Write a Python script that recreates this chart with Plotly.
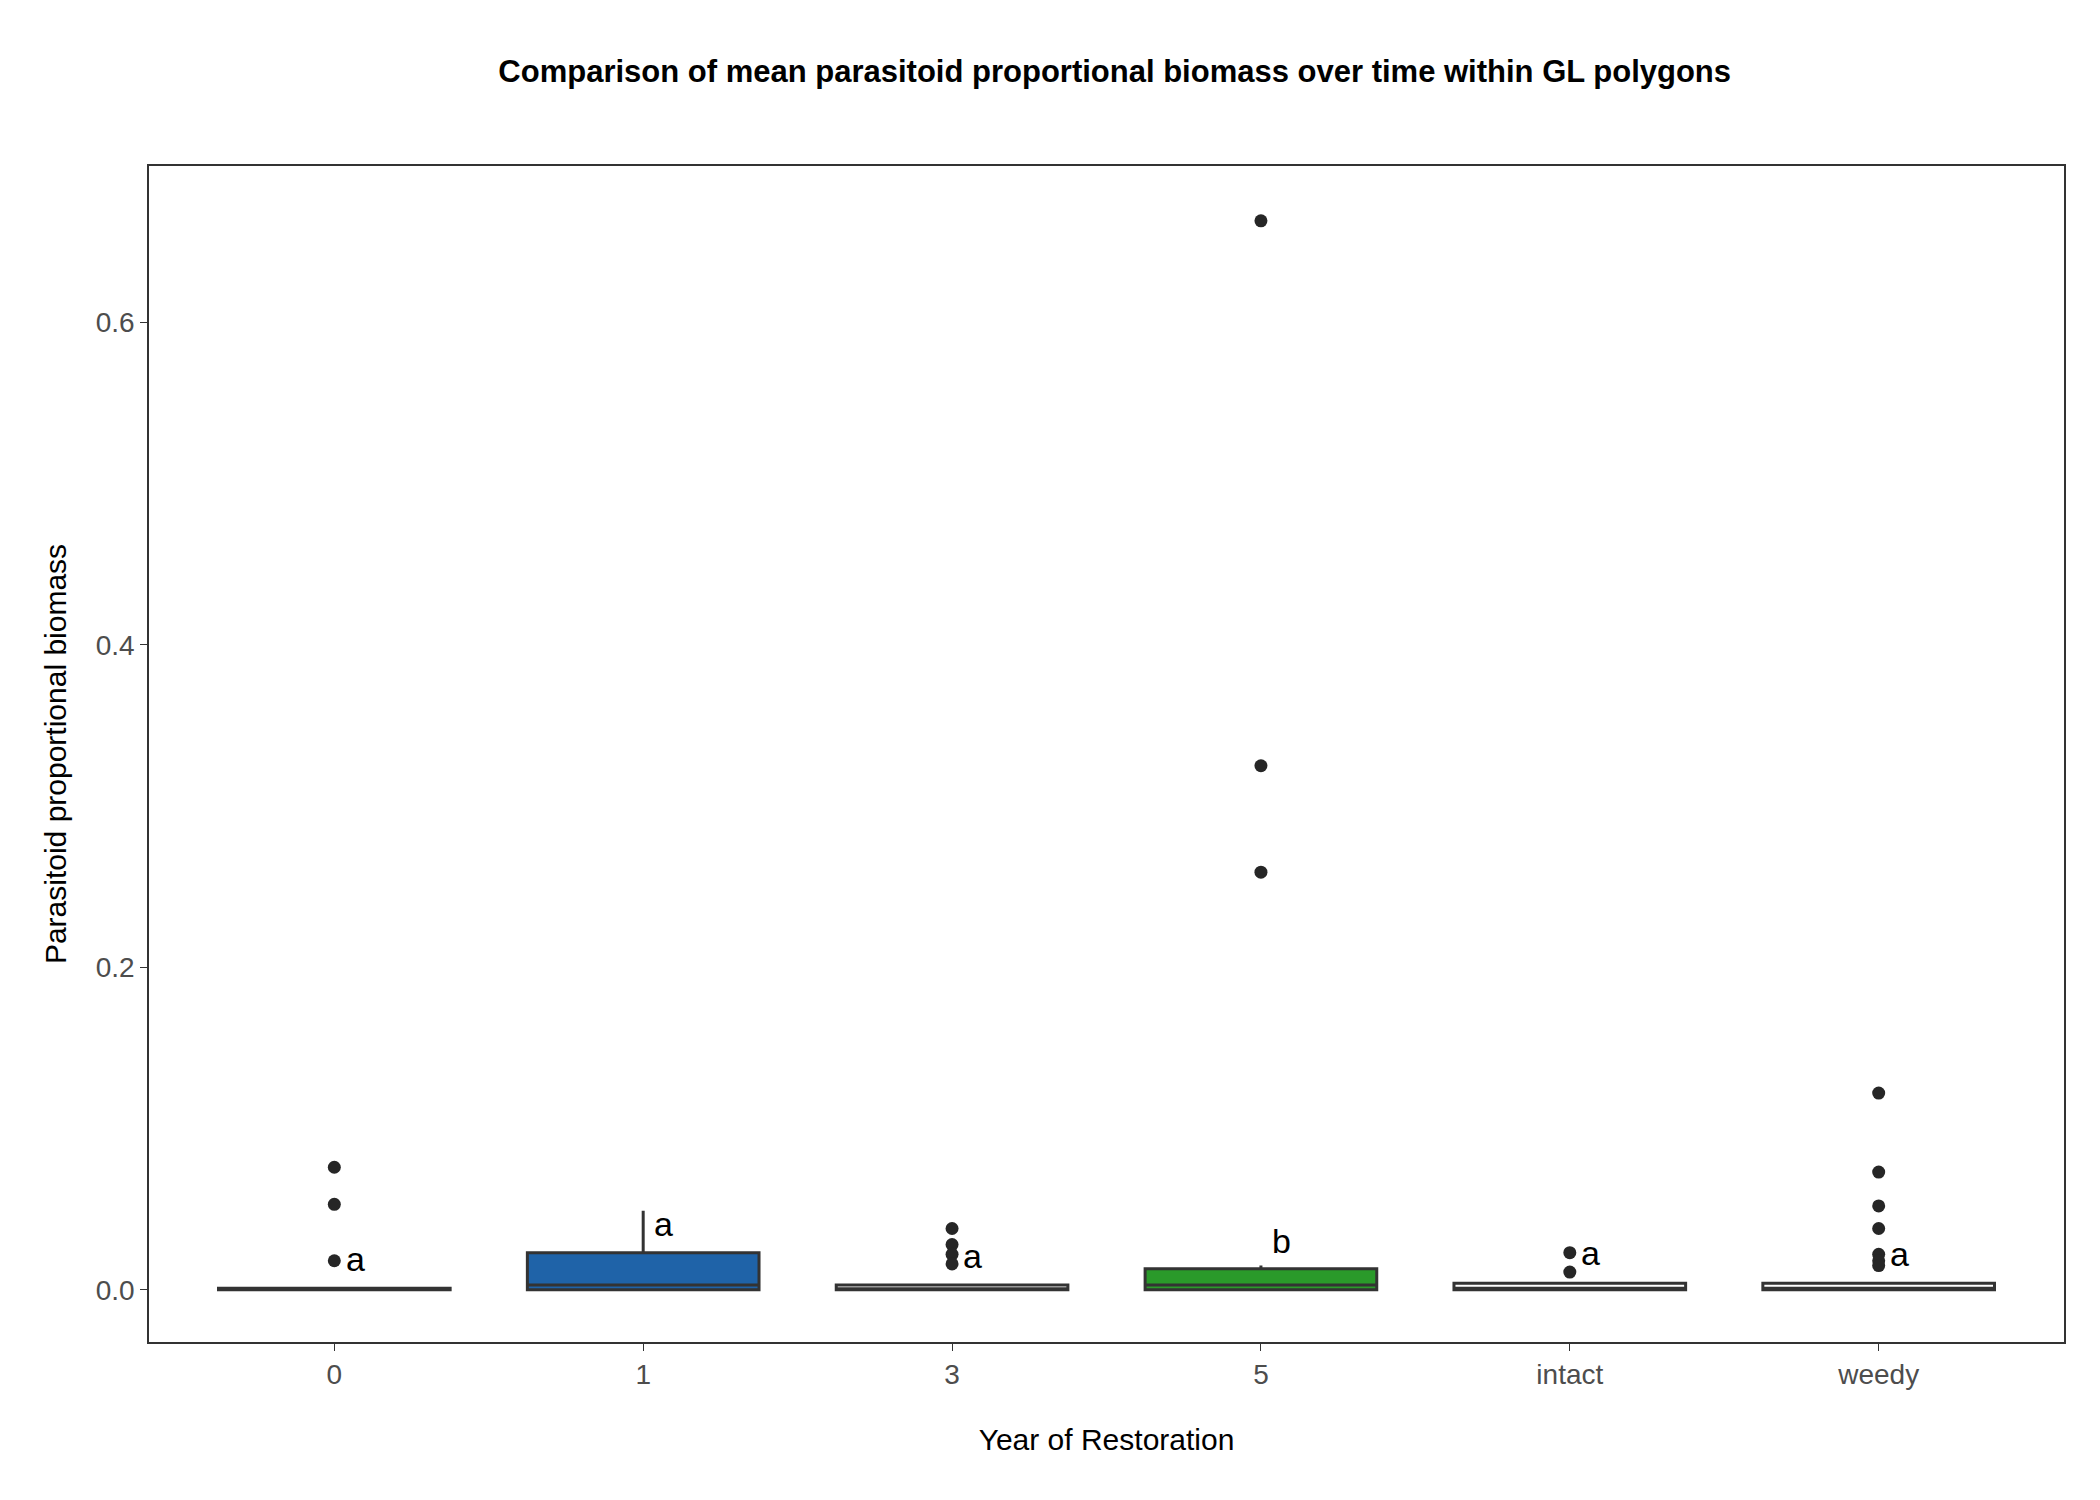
import plotly.graph_objects as go

cats = ["0", "1", "3", "5", "intact", "weedy"]
q1 = [0.0, 0.0, 0.0, 0.0, 0.0, 0.0]
med = [0.0, 0.003, 0.0005, 0.003, 0.001, 0.001]
q3 = [0.001, 0.023, 0.003, 0.013, 0.004, 0.004]
lo = [0.0, 0.0, 0.0, 0.0, 0.0, 0.0]
hi = [0.001, 0.049, 0.003, 0.015, 0.004, 0.004]
fills = ["white", "#1F63A8", "white", "#2A9A2A", "white", "white"]
outliers = {
    0: [0.076, 0.053, 0.018],
    2: [0.038, 0.028, 0.022, 0.016],
    3: [0.663, 0.325, 0.259],
    4: [0.023, 0.011],
    5: [0.122, 0.073, 0.052, 0.038, 0.022, 0.018, 0.015],
}
letters = ["a", "a", "a", "b", "a", "a"]
letter_y = [0.019, 0.041, 0.021, 0.03, 0.023, 0.022]

fig = go.Figure()
for i in range(len(cats)):
    fig.add_trace(go.Box(x=[i], q1=[q1[i]], median=[med[i]], q3=[q3[i]],
                         lowerfence=[lo[i]], upperfence=[hi[i]],
                         fillcolor=fills[i], line=dict(color="#333333", width=3),
                         whiskerwidth=0, width=0.75, boxpoints=False, showlegend=False))
for i, vals in outliers.items():
    fig.add_trace(go.Scatter(x=[i]*len(vals), y=vals, mode="markers",
                             marker=dict(color="#262626", size=13), showlegend=False))
for i in range(len(cats)):
    fig.add_annotation(x=i + 0.03, y=letter_y[i], text=letters[i], showarrow=False,
                       xanchor="left", font=dict(size=34, color="black"))

fig.update_layout(
    width=2100, height=1500, plot_bgcolor="white", paper_bgcolor="white",
    font=dict(family="Liberation Sans, Arial", color="#4d4d4d", size=26),
    title=dict(text="<b>Comparison of mean parasitoid proportional biomass over time within GL polygons</b>",
               x=0.527, xanchor="center", y=0.965, font=dict(size=31, color="black")),
    margin=dict(l=141, r=44, t=158, b=166),
    xaxis=dict(range=[-0.6, 5.6], tickvals=list(range(6)), ticktext=cats,
               showgrid=False, zeroline=False, showline=True, mirror=True,
               linecolor="#333333", linewidth=1.5, ticks="outside", ticklen=7,
               tickcolor="#333333", tickfont=dict(size=28),
               title=dict(text="Year of Restoration", font=dict(size=30, color="black"), standoff=40)),
    yaxis=dict(range=[-0.0324, 0.697], tickvals=[0, 0.2, 0.4, 0.6],
               ticktext=["0.0", "0.2", "0.4", "0.6"], showgrid=False, zeroline=False,
               showline=True, mirror=True, linecolor="#333333", linewidth=1.5,
               ticks="outside", ticklen=7, tickcolor="#333333", tickfont=dict(size=28),
               title=dict(text="Parasitoid proportional biomass", font=dict(size=30, color="black"), standoff=20)),
)
fig.write_html("out.html")
